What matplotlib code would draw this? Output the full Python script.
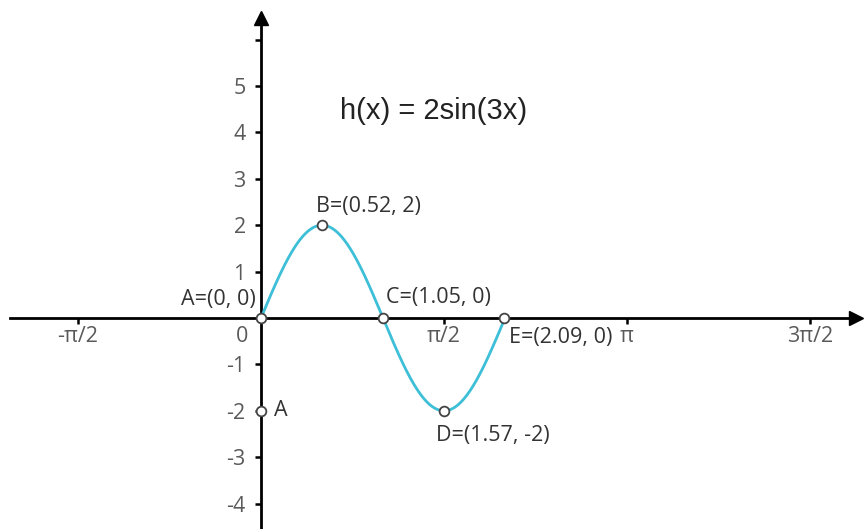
import matplotlib.pyplot as plt
import numpy as np

# h(x) = 2 sin(3x) over one period, with the labelled points
amp = 2
freq = 3
period_end = 2 * np.pi / 3

point_names = ['A=(0, 0)', 'B=(0.52, 2)', 'C=(1.05, 0)', 'D=(1.57, -2)', 'E=(2.09, 0)']
point_x = [0, 0.52, 1.05, 1.57, 2.09]
point_y = [0, 2, 0, -2, 0]
extra_x = [0]
extra_y = [-2]

x_ticks = [-np.pi / 2, np.pi / 2, np.pi, 3 * np.pi / 2]
x_tick_labels = ['-π/2', 'π/2', 'π', '3π/2']
y_ticks = [-4, -3, -2, -1, 1, 2, 3, 4, 5, 6]
y_tick_labels = ['-4', '-3', '-2', '-1', '1', '2', '3', '4', '5', '']

# pixel mapping of the picture
W, H = 866, 529
ox, oy = 261, 318
sx, sy = 116.5, 46.4


def px(u):
    return (u - ox) / sx


def py(v):
    return (oy - v) / sy


fig = plt.figure(figsize=(W / 100, H / 100), dpi=100)
ax = fig.add_axes([0, 0, 1, 1])
ax.set_xlim(px(0), px(W))
ax.set_ylim(py(H), py(0))

for s in ['top', 'right']:
    ax.spines[s].set_visible(False)
ax.spines['left'].set_position(('data', 0))
ax.spines['bottom'].set_position(('data', 0))
ax.spines['left'].set_linewidth(2)
ax.spines['bottom'].set_linewidth(2)
ax.spines['left'].set_bounds(py(H), py(18))
ax.spines['bottom'].set_bounds(px(10), px(854))
ax.plot(0, py(18), marker='^', ms=10, color='black', clip_on=False, zorder=5)
ax.plot(px(856), 0, marker='>', ms=10, color='black', clip_on=False, zorder=5)

tick_font = dict(family=['Open Sans', 'DejaVu Sans'], size=15.5)
ax.set_xticks(x_ticks)
ax.set_xticklabels(x_tick_labels, **tick_font)
ax.set_yticks(y_ticks)
ax.set_yticklabels(y_tick_labels, **tick_font)
ax.tick_params(axis='x', direction='out', length=4, width=1.8, pad=2, colors='#5a5a5a')
ax.tick_params(axis='y', direction='out', length=4, width=1.8, pad=7, colors='#5a5a5a')
ax.tick_params(axis='both', color='black')
ax.text(px(242), py(337), '0', ha='center', va='center', color='#5a5a5a', **tick_font)

# curve
xs = np.linspace(0, period_end, 400)
ax.plot(xs, amp * np.sin(freq * xs), color='#3cbfd7', lw=2, zorder=3)

ax.plot(point_x, point_y, 'o', ms=7, mfc='white', mec='#444444', mew=1.3, zorder=6, clip_on=False)
ax.plot(extra_x, extra_y, 'o', ms=7, mfc='white', mec='#444444', mew=1.3, zorder=6)

lab_font = dict(family=['Open Sans', 'DejaVu Sans'], size=15.5, color='#333333')
label_offsets = [(-5, 19, 'right'), (-6, 19, 'left'), (3, 20, 'left'),
                 (-8, -25, 'left'), (5, -19, 'left')]
for name, x, y, (dx, dy, ha) in zip(point_names, point_x, point_y, label_offsets):
    ax.annotate(name, (x, y), xytext=(dx, dy), textcoords='offset pixels',
                ha=ha, va='center', **lab_font)
ax.annotate('A', (extra_x[0], extra_y[0]), xytext=(13, 0), textcoords='offset pixels',
            ha='left', va='center', **lab_font)

ax.text(px(340), py(111), 'h(x) = 2sin(3x)', ha='left', va='center',
        family=['Liberation Sans', 'DejaVu Sans'], size=21, color='#222222')

plt.savefig('out.png', dpi=100)
